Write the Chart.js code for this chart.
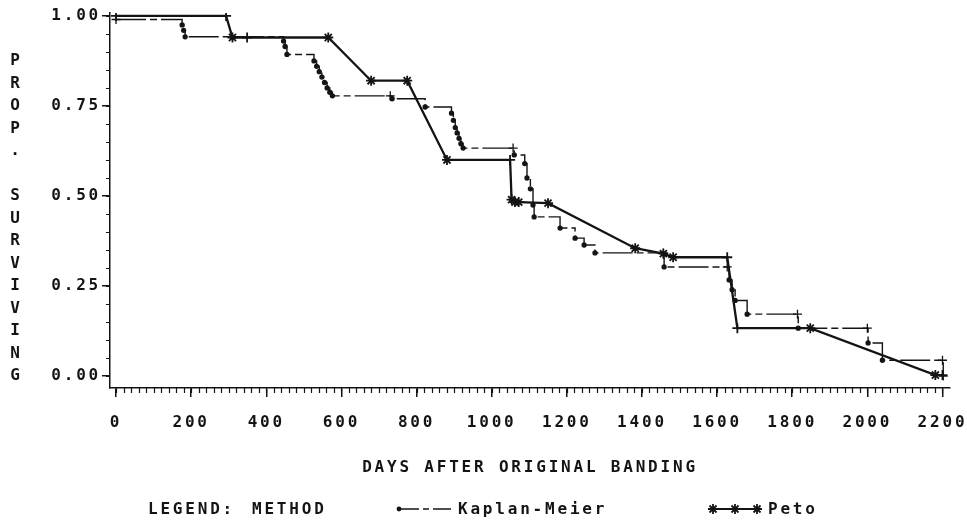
<!DOCTYPE html>
<html>
<head>
<meta charset="utf-8">
<title>Survival curves</title>
<script src="https://cdn.jsdelivr.net/npm/chart.js@4.4.1/dist/chart.umd.min.js"></script>
<style>
    body { margin: 0; background: #fff; }
    #wrap { position: relative; width: 967px; height: 523px; overflow: hidden; }
    #chart { position: absolute; left: 0; top: 0; }
    .txt {
        position: absolute;
        font-family: 'DejaVu Sans Mono', monospace;
        font-weight: bold;
        font-size: 16px;
        color: #141414;
        letter-spacing: 2.8px;
        white-space: pre;
        line-height: 18px;
    }
    #yTitle { left: 7px; top: 50px; width: 16px; letter-spacing: 0; text-align: center; }
    #yTitle span { display: block; height: 22.5px; line-height: 20px; }
    .sym { position: absolute; }
</style>
</head>
<body>
<div id="wrap">
    <canvas id="chart" width="967" height="523"></canvas>
    <div id="yTitle" class="txt"></div>
    <div class="txt" style="left:148px; top:500px;">LEGEND:</div>
    <div class="txt" style="left:252px; top:500px;">METHOD</div>
    <svg class="sym" style="left:393px; top:501px;" width="62" height="16">
        <circle cx="6" cy="8" r="2.4" fill="#141414"/>
        <path d="M6 8 H26 M30 8 H36 M40 8 H58" stroke="#141414" stroke-width="1.5"/>
    </svg>
    <div class="txt" style="left:458px; top:500px;">Kaplan-Meier</div>
    <svg class="sym" style="left:706px; top:501px;" width="60" height="16">
        <path d="M7 8 H51" stroke="#141414" stroke-width="2"/>
        <g stroke="#141414" stroke-width="1.8">
            <path d="M7 3 V13 M2 8 H12 M3.5 4.5 L10.5 11.5 M10.5 4.5 L3.5 11.5"/>
            <path d="M29 3 V13 M24 8 H34 M25.5 4.5 L32.5 11.5 M32.5 4.5 L25.5 11.5"/>
            <path d="M51 3 V13 M46 8 H56 M47.5 4.5 L54.5 11.5 M54.5 4.5 L47.5 11.5"/>
        </g>
    </svg>
    <div class="txt" style="left:768px; top:500px;">Peto</div>
</div>

<script>
// ========== Data ==========
// Kaplan-Meier: step function, value changes at each day
const kmDays = [0, 176, 180, 184, 446, 450, 455, 527, 534, 541, 548, 555, 562, 569, 576,
    730, 735, 823, 893, 898, 903, 908, 913, 918, 924, 1057, 1060, 1088, 1094, 1103, 1110, 1113,
    1182, 1222, 1246, 1275, 1457, 1459, 1627, 1632, 1640, 1648, 1680, 1814, 1816, 2000, 2002,
    2040, 2200, 2202];
const kmSurv = [0.99, 0.975, 0.96, 0.942, 0.93, 0.915, 0.893, 0.875, 0.86, 0.845, 0.83, 0.815, 0.80, 0.788, 0.778,
    0.778, 0.77, 0.747, 0.73, 0.71, 0.69, 0.675, 0.66, 0.645, 0.633, 0.633, 0.614, 0.59, 0.55, 0.52, 0.475, 0.442,
    0.411, 0.383, 0.364, 0.342, 0.342, 0.303, 0.303, 0.267, 0.24, 0.21, 0.172, 0.172, 0.133, 0.133, 0.092,
    0.044, 0.044, 0.0];
const kmCensored = [1, 0, 0, 0, 0, 0, 0, 0, 0, 0, 0, 0, 0, 0, 0,
    1, 0, 0, 0, 0, 0, 0, 0, 0, 0, 1, 0, 0, 0, 0, 0, 0,
    0, 0, 0, 0, 1, 0, 1, 0, 0, 0, 0, 1, 0, 1, 0,
    0, 1, 1];

// Peto: points joined by straight lines
const petoDays = [0, 293, 310, 349, 565, 679, 775, 881, 1049, 1053, 1062, 1072, 1150,
    1382, 1457, 1483, 1627, 1654, 1848, 2181, 2200];
const petoSurv = [1.0, 1.0, 0.94, 0.94, 0.94, 0.82, 0.82, 0.60, 0.60, 0.49, 0.483, 0.483, 0.48,
    0.355, 0.34, 0.33, 0.33, 0.133, 0.133, 0.003, 0.003];
const petoCensored = [1, 1, 0, 1, 0, 0, 0, 0, 1, 0, 0, 0, 0,
    0, 0, 0, 1, 1, 0, 0, 1];

const xTicks = [0, 200, 400, 600, 800, 1000, 1200, 1400, 1600, 1800, 2000, 2200];
const yTicks = [0, 0.25, 0.5, 0.75, 1.0];
const xMinorStep = 20;
const yMinorStep = 0.05;

const yTitle = 'PROP. SURVIVING';
const xTitle = 'DAYS AFTER ORIGINAL BANDING';

const INK = '#141414';
const FONT = "'DejaVu Sans Mono', monospace";
const SPACING = '2.8px';

// ========== Stacked y title ==========
document.getElementById('yTitle').innerHTML =
    yTitle.split('').map(ch => `<span>${ch === ' ' ? '&nbsp;' : ch}</span>`).join('');

// ========== Plugins ==========
const spacing = {
    id: 'spacing',
    beforeUpdate(chart) { chart.ctx.letterSpacing = SPACING; },
    beforeDraw(chart) { chart.ctx.letterSpacing = SPACING; }
};

// Minor ticks, placed through the chart's own scales
const minorTicks = {
    id: 'minorTicks',
    afterDraw(chart) {
        const { ctx, scales: { x, y } } = chart;
        ctx.save();
        ctx.strokeStyle = INK;
        ctx.lineWidth = 1.2;
        ctx.beginPath();
        const nx = Math.round((xTicks[xTicks.length - 1] - xTicks[0]) / xMinorStep);
        for (let i = 0; i <= nx; i++) {
            const px = Math.round(x.getPixelForValue(xTicks[0] + i * xMinorStep)) + 0.5;
            ctx.moveTo(px, x.top);
            ctx.lineTo(px, x.top + 5);
        }
        const ny = Math.round((yTicks[yTicks.length - 1] - yTicks[0]) / yMinorStep);
        for (let i = 0; i <= ny; i++) {
            const py = Math.round(y.getPixelForValue(yTicks[0] + i * yMinorStep)) + 0.5;
            ctx.moveTo(y.right, py);
            ctx.lineTo(y.right - 4, py);
        }
        ctx.stroke();
        ctx.restore();
    }
};

// ========== Chart ==========
const ctx = document.getElementById('chart');

new Chart(ctx, {
    type: 'line',
    data: {
        datasets: [
            {
                label: 'Kaplan-Meier',
                data: kmDays.map((d, i) => ({ x: d, y: kmSurv[i] })),
                stepped: 'before',
                borderColor: INK,
                borderWidth: 1.4,
                borderDash: [30, 4, 7, 4],
                pointStyle: c => kmCensored[c.dataIndex] ? 'cross' : 'circle',
                pointRadius: c => kmCensored[c.dataIndex] ? 4.5 : 2,
                pointBackgroundColor: INK,
                pointBorderColor: INK,
                pointBorderWidth: 1.3,
            },
            {
                label: 'Peto',
                data: petoDays.map((d, i) => ({ x: d, y: petoSurv[i] })),
                borderColor: INK,
                borderWidth: 2.3,
                tension: 0,
                pointStyle: c => petoCensored[c.dataIndex] ? 'cross' : 'star',
                pointRadius: 5,
                pointBackgroundColor: INK,
                pointBorderColor: INK,
                pointBorderWidth: 1.8,
            }
        ]
    },
    options: {
        responsive: false,
        animation: false,
        devicePixelRatio: 1,
        layout: { padding: { left: 0, top: 13, right: 17, bottom: 45.6 } },
        plugins: {
            legend: { display: false },
            tooltip: { enabled: false }
        },
        scales: {
            x: {
                type: 'linear',
                min: -16,
                max: 2220,
                afterBuildTicks: s => { s.ticks = xTicks.map(v => ({ value: v })); },
                afterFit: s => { s.height = 89.4; s.paddingLeft = 0; s.paddingRight = 0; },
                border: { display: true, color: INK, width: 1.5 },
                grid: { drawOnChartArea: false, drawTicks: true, tickLength: 9, color: INK, lineWidth: 1.5 },
                ticks: {
                    color: INK,
                    font: { family: FONT, size: 16, weight: 'bold' },
                    padding: 16,
                    maxRotation: 0,
                    autoSkip: false,
                    callback: v => String(v)
                },
                title: {
                    display: true,
                    text: xTitle,
                    color: INK,
                    font: { family: FONT, size: 16, weight: 'bold' },
                    padding: { top: 0, bottom: 0 }
                }
            },
            y: {
                min: -0.033,
                max: 1.008,
                afterBuildTicks: s => { s.ticks = yTicks.map(v => ({ value: v })); },
                afterFit: s => { s.width = 110; s.paddingTop = 0; s.paddingBottom = 0; },
                border: { display: true, color: INK, width: 1.5 },
                grid: { drawOnChartArea: false, drawTicks: true, tickLength: 8, color: INK, lineWidth: 1.5 },
                ticks: {
                    color: INK,
                    font: { family: FONT, size: 16, weight: 'bold' },
                    padding: 1,
                    callback: v => Number(v).toFixed(2)
                }
            }
        }
    },
    plugins: [spacing, minorTicks]
});
</script>
</body>
</html>
